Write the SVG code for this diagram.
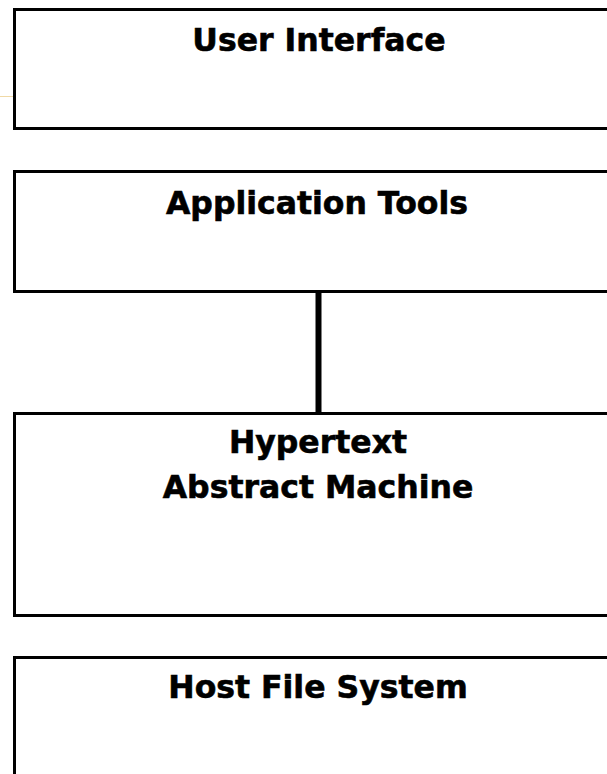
<svg xmlns="http://www.w3.org/2000/svg" width="607" height="774" viewBox="0 0 607 774">
<style>
.box{fill:#fff;stroke:#000;stroke-width:3}
.lbl{font-family:"DejaVu Sans",Verdana,sans-serif;font-weight:bold;font-size:31.5px;fill:#000;stroke:#000;stroke-width:0.6;text-anchor:middle}
</style>
<rect width="607" height="774" fill="#fff"/>
<line x1="0" y1="96.5" x2="14" y2="96.5" stroke="#f0d9a6" stroke-width="1"/>
<g id="user-interface">
<rect class="box" x="14.5" y="9.5" width="620" height="119"/>
<text class="lbl" x="319" y="50.5">User Interface</text>
</g>
<g id="application-tools">
<rect class="box" x="14.5" y="171.5" width="620" height="120"/>
<text class="lbl" x="317" y="214">Application Tools</text>
</g>
<g id="hypertext-abstract-machine">
<rect class="box" x="14.5" y="413.5" width="620" height="202"/>
<text class="lbl" x="318" y="453">Hypertext</text>
<text class="lbl" x="318" y="498">Abstract Machine</text>
</g>
<g id="host-file-system">
<rect class="box" x="14.5" y="657.5" width="620" height="140"/>
<text class="lbl" x="318" y="698">Host File System</text>
</g>
<g id="connectors">
<line x1="318.5" y1="292" x2="318.5" y2="412" stroke="#000" stroke-width="6"/>
</g>
</svg>
